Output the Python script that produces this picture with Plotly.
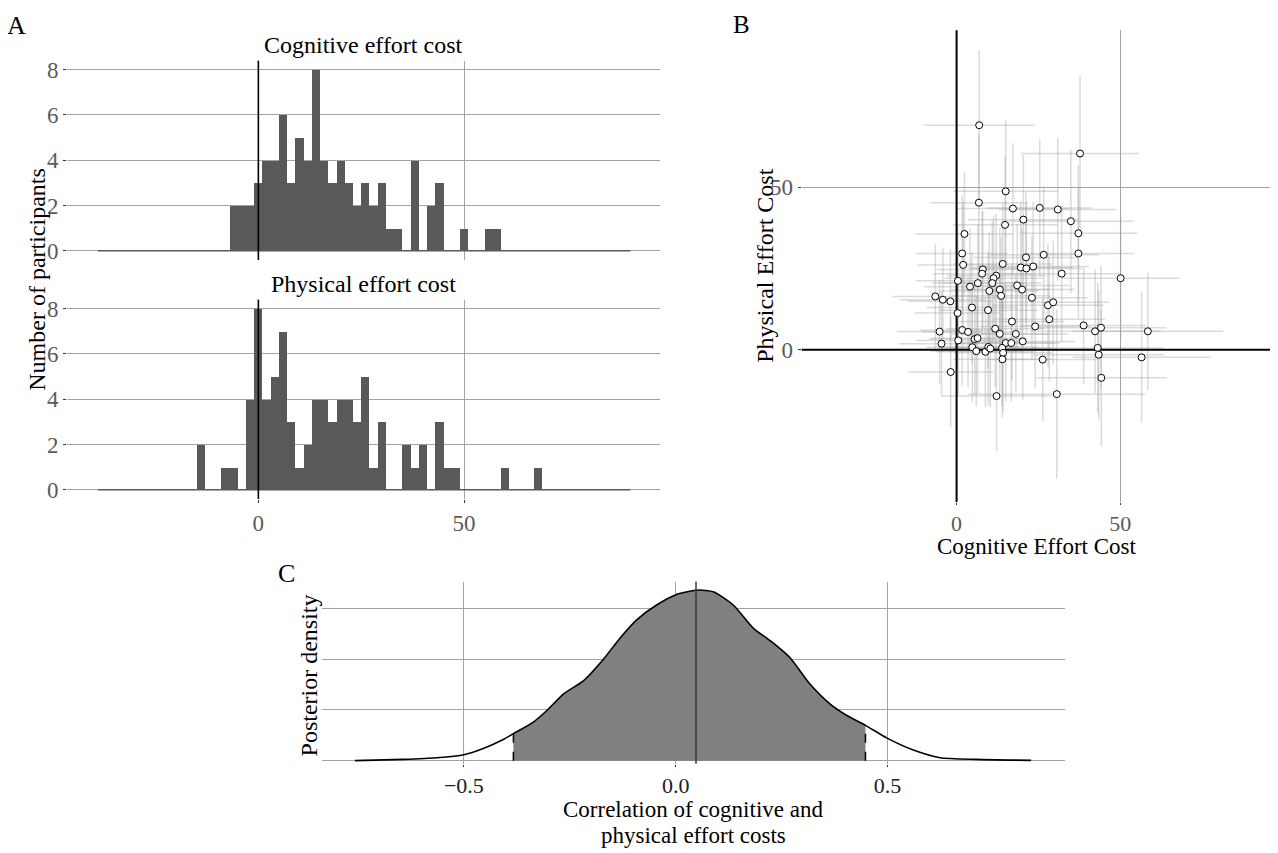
import plotly.graph_objects as go

# ---------------- data ----------------
# Panel A: histogram bins (centers, binwidth 2) and counts
cog_bin_centers = [-6, -4, -2, 0, 2, 4, 6, 8, 10, 12, 14, 16, 18, 20, 22, 24, 26, 28, 30,
                   32, 34, 36, 38, 40, 42, 44, 46, 48, 50, 52, 54, 56, 58]
cog_counts = [2, 2, 2, 3, 4, 4, 6, 3, 5, 4, 8, 4, 3, 4, 3, 2, 3, 2, 3,
              1, 1, 0, 4, 0, 2, 3, 0, 0, 1, 0, 0, 1, 1]
phys_bin_centers = [-14, -12, -10, -8, -6, -4, -2, 0, 2, 4, 6, 8, 10, 12, 14, 16, 18, 20, 22,
                    24, 26, 28, 30, 32, 34, 36, 38, 40, 42, 44, 46, 48, 60, 68]
phys_counts = [2, 0, 0, 1, 1, 0, 4, 8, 4, 5, 7, 3, 1, 2, 4, 4, 3, 4, 4,
               3, 5, 1, 3, 0, 0, 2, 1, 2, 0, 3, 1, 1, 1, 1]
hist_span = [-39.0, 90.4]   # extent of the (empty) histogram bins

# Panel B: per-participant cost estimates with uncertainty half-widths
cog_cost = [6.9, 37.7, 15.0, 6.8, 17.2, 25.4, 30.9, 20.4, 14.8, 34.9,
            37.2, 2.4, 37.2, 1.7, 26.6, 21.2, 2.0, 14.1, 19.6, 21.3,
            23.4, 8.0, 7.8, 32.1, 12.1, 11.3, 0.4, 6.5, 4.1, 10.9,
            18.5, 13.2, 10.0, 20.0, 13.6, 50.1, -6.5, -4.2, -1.9, 23.0,
            27.9, 29.5, 4.7, 9.6, 0.3, 28.3, 16.9, 38.8, 24.0, 42.3,
            44.1, 58.4, -5.2, 1.7, 3.5, 11.8, 13.2, 18.1, 20.2, -4.6,
            0.5, 5.5, 6.4, 15.0, 16.7, 4.8, 6.0, 8.8, 9.7, 10.3,
            13.9, 14.2, 14.0, 43.1, 43.4, 26.3, 56.5, -1.8, 44.2, 12.2,
            30.6]
phys_cost = [69.0, 60.3, 48.7, 45.2, 43.4, 43.6, 43.1, 40.0, 38.4, 39.5,
             35.8, 35.6, 29.6, 29.6, 29.2, 28.4, 26.1, 26.4, 25.3, 25.0,
             25.6, 24.7, 23.4, 23.4, 22.8, 22.0, 21.2, 20.5, 19.4, 20.5,
             19.8, 18.5, 18.1, 18.5, 16.6, 22.0, 16.4, 15.4, 14.9, 16.0,
             13.7, 14.6, 13.0, 12.2, 11.3, 9.4, 8.7, 7.5, 7.2, 5.7,
             6.8, 5.7, 5.6, 6.1, 5.5, 6.5, 4.9, 4.9, 2.6, 1.9,
             2.9, 3.3, 3.6, 2.1, 2.1, 0.8, -0.4, -0.6, 0.9, 0.4,
             0.6, -0.9, -2.9, 0.6, -1.5, -3.0, -2.3, -6.8, -8.6, -14.2,
             -13.6]
cog_err = [17, 18, 16, 15, 17, 16, 18, 17, 16, 19,
           18, 15, 17, 14, 17, 16, 14, 15, 16, 17,
           17, 14, 15, 18, 15, 15, 13, 14, 14, 15,
           16, 15, 15, 16, 15, 18, 13, 13, 13, 17,
           17, 17, 14, 15, 13, 17, 16, 19, 17, 20,
           20, 23, 13, 13, 14, 15, 15, 16, 16, 13,
           13, 14, 14, 15, 15, 14, 14, 15, 15, 15,
           15, 15, 15, 20, 20, 17, 21, 13, 20, 17,
           27]
phys_err = [23, 24, 22, 21, 20, 21, 22, 20, 21, 22,
            21, 19, 20, 18, 21, 20, 19, 19, 20, 20,
            20, 18, 19, 21, 19, 19, 17, 18, 18, 19,
            19, 19, 18, 19, 18, 19, 16, 16, 16, 19,
            19, 19, 17, 18, 17, 19, 18, 18, 19, 19,
            19, 18, 16, 17, 17, 18, 18, 18, 18, 16,
            17, 17, 17, 18, 18, 17, 17, 17, 18, 18,
            18, 18, 18, 20, 20, 19, 20, 17, 21, 17,
            26]

# Panel C: posterior density of the correlation
dens_x = [-0.757, -0.643, -0.564, -0.5, -0.454, -0.407, -0.383, -0.336, -0.304, -0.265,
          -0.218, -0.171, -0.131, -0.092, -0.045, 0.002, 0.053, 0.089, 0.136, 0.183,
          0.230, 0.270, 0.317, 0.364, 0.404, 0.448, 0.498, 0.561, 0.624, 0.710, 0.839]
dens_y = [0.0, 0.013, 0.029, 0.058, 0.120, 0.208, 0.266, 0.38, 0.494, 0.656,
          0.786, 0.997, 1.209, 1.387, 1.533, 1.637, 1.68, 1.663, 1.533, 1.306,
          1.16, 1.014, 0.754, 0.559, 0.445, 0.348, 0.224, 0.104, 0.029, 0.013, 0.003]
ci_low = -0.383
ci_high = 0.448
post_mean = 0.048

# ---------------- styling ----------------
OFF = 8                      # page body margin of the html page
W, H = 1278 - OFF, 853 - OFF
FONT = "Liberation Serif, Times New Roman, serif"
GRID = "#a3a3a3"
BAR = "#595959"
TICKTXT = "#5a5a5a"
ERR = "rgba(165,165,165,0.4)"


def px(x):
    return (x - OFF) / W


def py(y):
    return 1 - (y - OFF) / H


fig = go.Figure()

# Panel A histograms
fig.add_trace(go.Scatter(x=hist_span, y=[0, 0], mode="lines", line=dict(color=BAR, width=1.5),
                         xaxis="x", yaxis="y", showlegend=False, hoverinfo="skip"))
fig.add_trace(go.Bar(x=cog_bin_centers, y=cog_counts, width=2, marker=dict(color=BAR, line=dict(width=0)),
                     xaxis="x", yaxis="y", showlegend=False))
fig.add_trace(go.Scatter(x=hist_span, y=[0, 0], mode="lines", line=dict(color=BAR, width=1.5),
                         xaxis="x2", yaxis="y2", showlegend=False, hoverinfo="skip"))
fig.add_trace(go.Bar(x=phys_bin_centers, y=phys_counts, width=2, marker=dict(color=BAR, line=dict(width=0)),
                     xaxis="x2", yaxis="y2", showlegend=False))

# Panel B scatter: error bars, then reference lines, then points
fig.add_trace(go.Scatter(
    x=cog_cost, y=phys_cost, mode="markers", marker=dict(size=1, opacity=0),
    error_x=dict(type="data", array=cog_err, color=ERR, thickness=1.5, width=0),
    error_y=dict(type="data", array=phys_err, color=ERR, thickness=1.5, width=0),
    xaxis="x3", yaxis="y3", showlegend=False, hoverinfo="skip"))
fig.add_trace(go.Scatter(x=[-100, 200], y=[0, 0], mode="lines", line=dict(color="black", width=2),
                         xaxis="x3", yaxis="y3", showlegend=False, hoverinfo="skip"))
fig.add_trace(go.Scatter(x=[0, 0], y=[-100, 200], mode="lines", line=dict(color="black", width=2),
                         xaxis="x3", yaxis="y3", showlegend=False, hoverinfo="skip"))
fig.add_trace(go.Scatter(
    x=cog_cost, y=phys_cost, mode="markers",
    marker=dict(size=7, color="white", line=dict(color="black", width=1)),
    xaxis="x3", yaxis="y3", showlegend=False))

# Panel C density
fill_x = [x for x in dens_x if ci_low <= x <= ci_high]
fill_y = [y for x, y in zip(dens_x, dens_y) if ci_low <= x <= ci_high]
fig.add_trace(go.Scatter(x=fill_x, y=fill_y, mode="lines", fill="tozeroy", fillcolor="#808080",
                         line=dict(width=0, shape="spline", smoothing=0.6), xaxis="x4", yaxis="y4",
                         showlegend=False, hoverinfo="skip"))
y_low = dens_y[dens_x.index(ci_low)]
y_high = dens_y[dens_x.index(ci_high)]
fig.add_trace(go.Scatter(x=[ci_low, ci_low], y=[0, y_low], mode="lines",
                         line=dict(color="black", width=1.5, dash="dash"),
                         xaxis="x4", yaxis="y4", showlegend=False, hoverinfo="skip"))
fig.add_trace(go.Scatter(x=[ci_high, ci_high], y=[0, y_high], mode="lines",
                         line=dict(color="black", width=1.5, dash="dash"),
                         xaxis="x4", yaxis="y4", showlegend=False, hoverinfo="skip"))
fig.add_trace(go.Scatter(x=dens_x, y=dens_y, mode="lines",
                         line=dict(color="black", width=1.6, shape="spline", smoothing=0.6),
                         xaxis="x4", yaxis="y4", showlegend=False))

# shapes: vertical reference lines
shapes = [
    dict(type="line", xref="x", yref="y domain", x0=0, x1=0, y0=0, y1=1,
         line=dict(color="black", width=1.6), layer="above"),
    dict(type="line", xref="x2", yref="y2 domain", x0=0, x1=0, y0=0, y1=1,
         line=dict(color="black", width=1.6), layer="above"),
    dict(type="line", xref="x4", yref="y4 domain", x0=post_mean, x1=post_mean, y0=0, y1=1,
         line=dict(color="#3a3a3a", width=1.5), layer="above"),
]

tickfont = dict(family=FONT, size=23, color=TICKTXT)
hist_x_common = dict(range=[-46.5, 97.6], tickvals=[0, 50], showgrid=True, gridcolor=GRID,
                     gridwidth=1.4, zeroline=False, showline=False,
                     domain=[px(67), px(660)], fixedrange=True)
hist_y_common = dict(range=[-0.4, 8.4], tickvals=[0, 2, 4, 6, 8], showgrid=True, gridcolor=GRID,
                     gridwidth=1.4, zeroline=False, showline=False, ticks="outside", ticklen=3,
                     tickcolor="#333333", tickwidth=1.2, tickfont=tickfont)

fig.update_layout(
    width=W, height=H, margin=dict(l=0, r=0, t=0, b=0),
    paper_bgcolor="white", plot_bgcolor="white",
    font=dict(family=FONT, color="black"),
    xaxis=dict(**hist_x_common, anchor="y", showticklabels=False, ticks=""),
    yaxis=dict(**hist_y_common, anchor="x", domain=[py(259), py(58)]),
    xaxis2=dict(**hist_x_common, anchor="y2", showticklabels=True, ticks="outside", ticklen=3,
                tickcolor="#333333", tickwidth=1.2, tickfont=tickfont),
    yaxis2=dict(**hist_y_common, anchor="x2", domain=[py(500), py(299)]),
    xaxis3=dict(range=[-47.3, 98.0], tickvals=[0, 50], showgrid=True, gridcolor=GRID, gridwidth=1.4,
                zeroline=False, showline=False, ticks="outside", ticklen=2, tickcolor="#333333",
                tickwidth=1.2, tickfont=dict(family=FONT, size=22, color=TICKTXT),
                domain=[px(801.7), px(1277.5)], anchor="y3"),
    yaxis3=dict(range=[-46.7, 98.2], tickvals=[0, 50], showgrid=True, gridcolor=GRID, gridwidth=1.4,
                zeroline=False, showline=False, ticks="outside", ticklen=3, tickcolor="#333333",
                tickwidth=1.2, tickfont=tickfont,
                domain=[py(503), py(27.3)], anchor="x3"),
    xaxis4=dict(range=[-0.8355, 0.919], tickvals=[-0.5, 0.0, 0.5], ticktext=["\u22120.5", "0.0", "0.5"],
                showgrid=True, gridcolor=GRID, gridwidth=1.4, zeroline=False, showline=False,
                ticks="outside", ticklen=2, tickcolor="#333333", tickwidth=1.2,
                tickfont=dict(family=FONT, size=22, color="#222222"),
                domain=[px(321.7), px(1065)], anchor="y4"),
    yaxis4=dict(range=[-0.03, 1.764], tickvals=[0, 0.5, 1.0, 1.5], showticklabels=False, ticks="",
                showgrid=True, gridcolor=GRID, gridwidth=1.4, zeroline=False, showline=False,
                domain=[py(767), py(583.3)], anchor="x4"),
    shapes=shapes,
    bargap=0,
)

ann_font = dict(family=FONT, size=24, color="black")
ann_font23 = dict(family=FONT, size=23, color="black")
annotations = [
    dict(text="A", x=px(16), y=py(23), font=dict(family=FONT, size=26, color="black")),
    dict(text="B", x=px(742), y=py(22), font=dict(family=FONT, size=25, color="black")),
    dict(text="C", x=px(286), y=py(575), font=dict(family=FONT, size=26, color="black")),
    dict(text="Cognitive effort cost", x=px(363.5), y=py(42), font=ann_font),
    dict(text="Physical effort cost", x=px(363.5), y=py(283), font=ann_font),
    dict(text="Number of participants", x=px(37), y=py(279), textangle=-90, font=ann_font),
    dict(text="Physical Effort Cost", x=px(765), y=py(265), textangle=-90, font=ann_font),
    dict(text="Cognitive Effort Cost", x=px(1037), y=py(548), font=ann_font23),
    dict(text="Posterior density", x=px(309), y=py(678), textangle=-90, font=ann_font),
    dict(text="Correlation of cognitive and", x=px(693), y=py(813), font=ann_font23),
    dict(text="physical effort costs", x=px(693), y=py(839), font=ann_font23),
]
for a in annotations:
    a.update(xref="paper", yref="paper", showarrow=False, xanchor="center", yanchor="middle")
fig.update_layout(annotations=annotations)

fig.write_html("out.html")
